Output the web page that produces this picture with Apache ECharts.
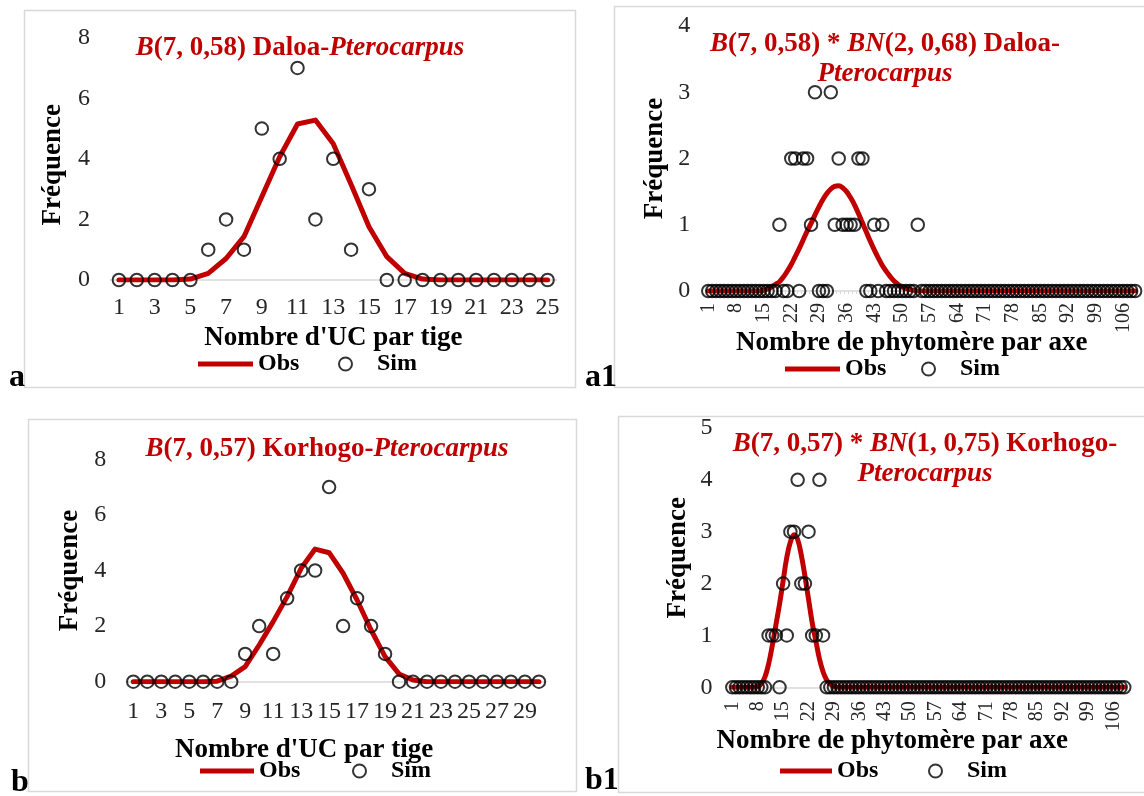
<!DOCTYPE html>
<html><head><meta charset="utf-8">
<script src="https://cdn.jsdelivr.net/npm/echarts@6/dist/echarts.min.js"></script>
<style>html,body{margin:0;padding:0;background:#fff}#c{width:1144px;height:796px}</style>
</head><body><div id="c"></div>
<script>
// ---------- DATA ----------
const catsA = ['1','2','3','4','5','6','7','8','9','10','11','12','13','14','15','16','17','18','19','20','21','22','23','24','25'];
const obsA  = [0,0,0,0,0.03,0.22,0.71,1.43,2.75,4.07,5.15,5.28,4.5,3.15,1.76,0.77,0.22,0.03,0,0,0,0,0,0,0];
const simA  = [0,0,0,0,0,1,2,1,5,4,7,2,4,1,3,0,0,0,0,0,0,0,0,0,0];

const catsB = ['1','2','3','4','5','6','7','8','9','10','11','12','13','14','15','16','17','18','19','20','21','22','23','24','25','26','27','28','29','30'];
const obsB  = [0,0,0,0,0,0,0.02,0.2,0.54,1.32,2.16,3.06,4.08,4.77,4.64,3.9,2.94,1.86,0.9,0.28,0.06,0,0,0,0,0,0,0,0,0];
const simB  = [0,0,0,0,0,0,0,0,1,2,1,3,4,4,7,2,3,2,1,0,0,0,0,0,0,0,0,0,0,0];

// phytomer categories 1..109
const catsLong = Array.from({length:109}, (_, i) => String(i + 1));
const obsA1 = [
  0,0,0,0,0,0,0,0,0,0, 0,0,0,0,0.01,0.03,0.06,0.1,0.14,0.21,
  0.3,0.4,0.52,0.64,0.77,0.9,1.02,1.15,1.27,1.38, 1.47,1.54,1.58,1.59,1.56,1.5,1.41,1.3,1.17,1.03,
  0.89,0.75,0.62,0.5,0.39,0.3,0.22,0.15,0.1,0.06, 0.04,0.02,0.01,0,0,0,0,0,0,0,
  0,0,0,0,0,0,0,0,0,0, 0,0,0,0,0,0,0,0,0,0,
  0,0,0,0,0,0,0,0,0,0, 0,0,0,0,0,0,0,0,0,0,
  0,0,0,0,0,0,0,0,0];
const simA1 = [
  0,0,0,0,0,0,0,0,0,0, 0,0,0,0,0,0,0,0,1,0,
  0,2,2,0,2,2,1,3,0,0, 0,3,1,2,1,1,1,1,2,2,
  0,0,1,0,1,0,0,0,0,0, 0,0,0,1,0,0,0,0,0,0,
  0,0,0,0,0,0,0,0,0,0, 0,0,0,0,0,0,0,0,0,0,
  0,0,0,0,0,0,0,0,0,0, 0,0,0,0,0,0,0,0,0,0,
  0,0,0,0,0,0,0,0,0];
const obsB1 = [
  0,0,0,0,0,0,0,0.02,0.07,0.2, 0.45,0.8,1.2,1.6,2.05,2.5,2.8,2.94,2.85,2.55,
  2.15,1.7,1.25,0.9,0.55,0.3,0.14,0.06,0.02,0, 0,0,0,0,0,0,0,0,0,0,
  0,0,0,0,0,0,0,0,0,0, 0,0,0,0,0,0,0,0,0,0,
  0,0,0,0,0,0,0,0,0,0, 0,0,0,0,0,0,0,0,0,0,
  0,0,0,0,0,0,0,0,0,0, 0,0,0,0,0,0,0,0,0,0,
  0,0,0,0,0,0,0,0,0];
const simB1 = [
  0,0,0,0,0,0,0,0,0,0, 1,1,1,0,2,1,3,3,4,2,
  2,3,1,1,4,1,0,0,0,0, 0,0,0,0,0,0,0,0,0,0,
  0,0,0,0,0,0,0,0,0,0, 0,0,0,0,0,0,0,0,0,0,
  0,0,0,0,0,0,0,0,0,0, 0,0,0,0,0,0,0,0,0,0,
  0,0,0,0,0,0,0,0,0,0, 0,0,0,0,0,0,0,0,0,0,
  0,0,0,0,0,0,0,0,0];

const titleA  = '{i|B}{n|(7, 0,58) Daloa-}{i|Pterocarpus}';
const titleA1 = '{i|B}{n|(7, 0,58) * }{i|BN}{n|(2, 0,68) Daloa-}\n{i|Pterocarpus}';
const titleB  = '{i|B}{n|(7, 0,57) Korhogo-}{i|Pterocarpus}';
const titleB1 = '{i|B}{n|(7, 0,57) * }{i|BN}{n|(1, 0,75) Korhogo-}\n{i|Pterocarpus}';
const xNameUC = "Nombre d'UC par tige";
const xNamePhy = 'Nombre de phytomère par axe';
const yName = 'Fréquence';

// ---------- STYLE / LAYOUT ----------
const RED = '#C00000';
const FONT = '"Liberation Serif", "Times New Roman", serif';
const TICK_FS = 24, NAME_FS = 27, TITLE_FS = 27, LEG_FS = 24;

const panels = [
  {grid:{left:110, top:37.7, width:446.5, height:242.3}, cats:catsA, obs:obsA, sim:simA, ymax:8, yint:2, xint:1, rot:0, xFs:24,
   xMargin:16, yMargin:20, yNameGap:43, yNamePadR:12, xNameGap:45, xNamePadR:0, xName:xNameUC, smooth:false, tick:false,
   title:titleA, tx:300, ty:33, letter:'a', lx:9, ly:362, legY:352, obsL:198, obsW:55, simL:338},
  {grid:{left:706.3, top:26, width:430.8, height:265}, cats:catsLong, obs:obsA1, sim:simA1, ymax:4, yint:1, xint:6, rot:90, xFs:20,
   xMargin:12, yMargin:16, yNameGap:38, yNamePadR:0, xNameGap:39, xNamePadR:20, xName:xNamePhy, smooth:true, tick:true,
   title:titleA1, tx:885, ty:29, letter:'a1', lx:585, ly:362, legY:357, obsL:785, obsW:55, simL:921},
  {grid:{left:126.3, top:459.3, width:419.6, height:222.4}, cats:catsB, obs:obsB, sim:simB, ymax:8, yint:2, xint:1, rot:0, xFs:24,
   xMargin:18, yMargin:20, yNameGap:43, yNamePadR:0, xNameGap:55, xNamePadR:64, xName:xNameUC, smooth:false, tick:false,
   title:titleB, tx:327, ty:434, letter:'b', lx:11, ly:767, legY:759, obsL:200, obsW:54, simL:352},
  {grid:{left:730.5, top:428, width:395.6, height:259.3}, cats:catsLong, obs:obsB1, sim:simB1, ymax:5, yint:1, xint:6, rot:90, xFs:20,
   xMargin:14, yMargin:18, yNameGap:39, yNamePadR:0, xNameGap:40, xNamePadR:72, xName:xNamePhy, smooth:true, tick:false,
   title:titleB1, tx:925, ty:429, letter:'b1', lx:585, ly:765, legY:759, obsL:780, obsW:52, simL:928}
];

const grids = [], xAxes = [], yAxes = [], series = [], titles = [], legends = [];
panels.forEach((p, i) => {
  grids.push(Object.assign({containLabel:false}, p.grid));
  xAxes.push({
    type:'category', gridIndex:i, data:p.cats, boundaryGap:true,
    name:p.xName, nameLocation:'middle', nameGap:p.xNameGap, nameMoveOverlap:false,
    nameTextStyle:{fontFamily:FONT, fontWeight:'bold', fontSize:NAME_FS, color:'#000', padding:[0, p.xNamePadR, 0, 0]},
    axisLine:{show:true, lineStyle:{color:'#d9d9d9', width:1.5}},
    axisTick:{show:p.tick, interval:0, length:3, lineStyle:{color:'#d9d9d9'}},
    axisLabel:{interval:p.xint, rotate:p.rot, margin:p.xMargin, fontFamily:FONT, fontSize:p.xFs, color:'#262626'},
    splitLine:{show:false}
  });
  yAxes.push({
    type:'value', gridIndex:i, min:0, max:p.ymax, interval:p.yint,
    name:yName, nameLocation:'middle', nameRotate:90, nameGap:p.yNameGap, nameMoveOverlap:false,
    nameTextStyle:{fontFamily:FONT, fontWeight:'bold', fontSize:NAME_FS, color:'#000', padding:[0, p.yNamePadR, 0, 0]},
    axisLine:{show:false}, axisTick:{show:false},
    axisLabel:{margin:p.yMargin, fontFamily:FONT, fontSize:TICK_FS, color:'#262626'},
    splitLine:{show:false}
  });
  series.push({
    type:'line', name:'Obs', xAxisIndex:i, yAxisIndex:i, data:p.obs, symbol:'none',
    smooth:p.smooth ? 0.4 : false, z:2,
    lineStyle:{color:RED, width:5, cap:'round', join:'round'}, itemStyle:{color:RED}
  });
  series.push({
    type:'scatter', name:'Sim', xAxisIndex:i, yAxisIndex:i, data:p.sim, symbol:'circle', symbolSize:12.5, z:3,
    itemStyle:{color:'rgba(0,0,0,0)', borderColor:'#000', borderWidth:2}
  });
  titles.push({
    text:p.title, left:p.tx, top:p.ty, padding:0, textAlign:'center',
    textStyle:{
      fontFamily:FONT, fontSize:TITLE_FS, fontWeight:'bold', color:RED, lineHeight:30,
      rich:{
        i:{fontFamily:FONT, fontSize:TITLE_FS, fontWeight:'bold', fontStyle:'italic', color:RED, lineHeight:30},
        n:{fontFamily:FONT, fontSize:TITLE_FS, fontWeight:'bold', color:RED, lineHeight:30}
      }
    }
  });
  titles.push({
    text:p.letter, left:p.lx, top:p.ly, padding:0,
    textStyle:{fontFamily:FONT, fontSize:32, fontWeight:'bold', color:'#000'}
  });
  legends.push({
    data:[{name:'Obs', icon:'rect'}], left:p.obsL, top:p.legY, padding:0, itemWidth:p.obsW, itemHeight:5,
    selectedMode:false,
    textStyle:{fontFamily:FONT, fontSize:LEG_FS, fontWeight:'bold', color:'#000'}
  });
  legends.push({
    data:[{name:'Sim', icon:'circle'}], left:p.simL, top:p.legY, padding:0, itemWidth:13, itemHeight:13,
    selectedMode:false,
    itemStyle:{color:'rgba(0,0,0,0)', borderColor:'#000', borderWidth:2},
    textStyle:{fontFamily:FONT, fontSize:LEG_FS, fontWeight:'bold', color:'#000', padding:[0,0,0,20]}
  });
});

const frame = (x, y, w, h) => ({type:'rect', shape:{x, y, width:w, height:h}, silent:true, z:-10,
  style:{fill:'none', stroke:'#d9d9d9', lineWidth:1.5}});

const chart = echarts.init(document.getElementById('c'), null, {renderer:'canvas'});
chart.setOption({
  animation:false,
  backgroundColor:'#fff',
  title:titles,
  legend:legends,
  grid:grids,
  xAxis:xAxes,
  yAxis:yAxes,
  series:series,
  graphic:[
    frame(24.5, 10.5, 551, 377),
    frame(614.5, 6.5, 540, 381),
    frame(28.5, 419.5, 548, 372),
    frame(618.5, 416.5, 540, 376)
  ]
});
</script>
</body></html>
